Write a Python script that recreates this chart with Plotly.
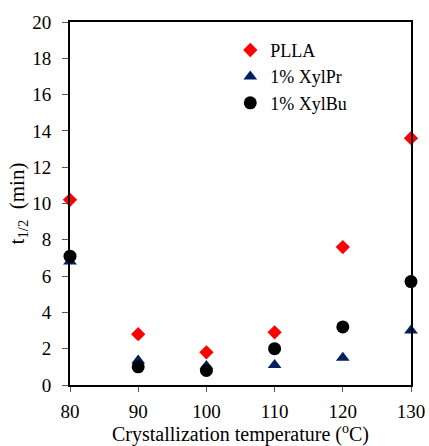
import plotly.graph_objects as go

temps = [80, 90, 100, 110, 120, 130]
plla = [10.2, 2.8, 1.8, 2.9, 7.6, 13.6]
xylpr = [6.8, 1.35, 1.05, 1.1, 1.5, 3.0]
xylbu = [7.1, 1.0, 0.8, 2.0, 3.2, 5.7]

font_family = "Liberation Serif"

fig = go.Figure()
fig.add_trace(go.Scatter(x=temps, y=plla, mode="markers", name="PLLA",
                         marker=dict(symbol="diamond", size=11, color="#ff0000"),
                         cliponaxis=False))
fig.add_trace(go.Scatter(x=temps, y=xylpr, mode="markers", name="1% XylPr",
                         marker=dict(symbol="triangle-up", size=12, color="#002060"),
                         cliponaxis=False))
fig.add_trace(go.Scatter(x=temps, y=xylbu, mode="markers", name="1% XylBu",
                         marker=dict(symbol="circle", size=13, color="#000000"),
                         cliponaxis=False))

fig.update_layout(
    width=429, height=446,
    margin=dict(l=70, r=18, t=22, b=61),
    paper_bgcolor="white", plot_bgcolor="white",
    font=dict(family=font_family, size=19, color="#000000"),
    showlegend=True,
    legend=dict(x=0.47, y=0.973, xanchor="left", yanchor="top",
                bgcolor="rgba(0,0,0,0)", font=dict(size=18, family=font_family),
                itemwidth=30, tracegroupgap=0),
    xaxis=dict(range=[80, 130], tickvals=[80, 90, 100, 110, 120, 130],
               automargin=False,
               showgrid=False, zeroline=False,
               showline=True, linecolor="#000000", linewidth=2, mirror=True,
               ticks="outside", ticklen=5, tickcolor="#555555",
               tickfont=dict(size=19), ticklabelstandoff=3,
               title=dict(text="Crystallization temperature (<sup>o</sup>C)",
                          font=dict(size=20), standoff=5)),
    yaxis=dict(range=[0, 20], tickvals=list(range(0, 21, 2)),
               automargin=False,
               showgrid=False, zeroline=False,
               showline=True, linecolor="#000000", linewidth=2, mirror=True,
               ticks="outside", ticklen=6, tickcolor="#555555",
               tickfont=dict(size=19), ticklabelstandoff=7,
               title=dict(text="t<sub>1/2</sub>  (min)", font=dict(size=21), standoff=2)),
)

post = (
    "var de=document.documentElement, b=document.body;"
    "de.style.margin='0';de.style.padding='0';de.style.overflow='hidden';"
    "b.style.margin='0';b.style.padding='0';b.style.overflow='hidden';"
)

fig.write_html("out.html", config={"displayModeBar": False}, post_script=post)
